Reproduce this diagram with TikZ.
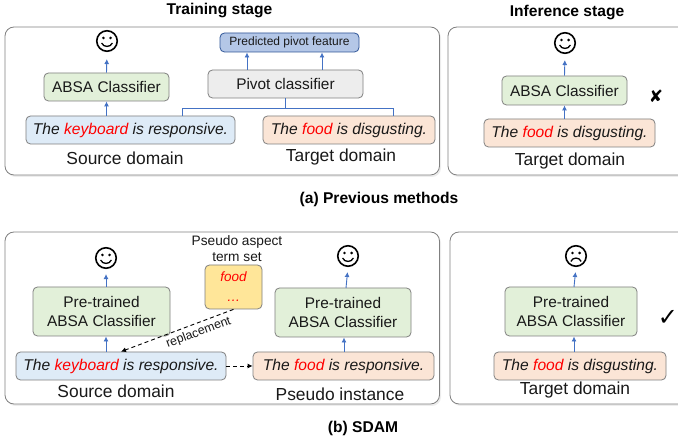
\documentclass[tikz,border=0pt]{standalone}
\usepackage{fontspec}
\setmainfont{Liberation Sans}
\newfontfamily\symfont{DejaVu Sans}
\usetikzlibrary{arrows.meta,shadows}
\definecolor{boxline}{HTML}{7F7F7F}
\definecolor{panelline}{HTML}{808080}
\definecolor{arrowblue}{HTML}{4472C4}
\definecolor{greenfill}{HTML}{E2F0D9}
\definecolor{bluefill}{HTML}{DEEBF7}
\definecolor{orangefill}{HTML}{FBE5D6}
\definecolor{grayfill}{HTML}{EDEDED}
\definecolor{yellowfill}{HTML}{FFE699}
\definecolor{predfill}{HTML}{B4C7E7}
\definecolor{predline}{HTML}{2F5597}
\newcommand{\kw}[1]{\textcolor{red}{#1}}
\tikzset{
	panel/.style={draw=panelline, line width=0.8pt, rounded corners=9pt, fill=white,
		drop shadow={opacity=0.14, shadow xshift=1.5pt, shadow yshift=-2pt}},
	box/.style={draw=boxline, line width=0.8pt, rounded corners=4.5pt, inner sep=0pt, text=black!90, align=center},
	classbox/.style={box, fill=greenfill, font=\fontsize{15.4}{18.5}\selectfont},
	srcbox/.style={box, fill=bluefill, minimum height=28pt, font=\fontsize{15.6}{19}\selectfont\itshape},
	tgtbox/.style={box, fill=orangefill, minimum height=28pt, font=\fontsize{15.6}{19}\selectfont\itshape},
	caption/.style={inner sep=0pt, text=black!90, font=\fontsize{17.4}{20}\selectfont},
	heading/.style={inner sep=0pt, font=\fontsize{15.6}{18}\selectfont\bfseries},
	facecircle/.style={draw=black, circle, line width=1.6pt, minimum size=20.5pt, inner sep=0pt},
	bluearrow/.style={draw=arrowblue, line width=0.9pt, -{Latex[length=5pt,width=5pt]}},
	blueline/.style={draw=arrowblue, line width=0.9pt},
	dasharrow/.style={draw=black, line width=0.9pt, dash pattern=on 4pt off 3pt, -{Latex[length=5pt,width=5pt]}}
}
% one face is a named circle with eyes and a mouth
\def\smileface(#1)(#2){
	\node[facecircle] (#2) at (#1) {};
	\fill (#2.center) ++(-3.6,-3) circle (1.4);
	\fill (#2.center) ++(3.6,-3) circle (1.4);
	\draw[line width=1.3pt] (#2.center) ++(-5.4,2) .. controls +(2,4.6) and +(-2,4.6) .. +(10.8,0);
}
\def\sadface(#1)(#2){
	\node[facecircle] (#2) at (#1) {};
	\fill (#2.center) ++(-3.6,-3) circle (1.4);
	\fill (#2.center) ++(3.6,-3) circle (1.4);
	\draw[line width=1.3pt] (#2.center) ++(-5.2,5.5) .. controls +(2,-4.6) and +(-2,-4.6) .. +(10.4,0);
}

\begin{document}
\begin{tikzpicture}[x=1pt, y=-1pt]
	\useasboundingbox (0,0) rectangle (678,443);

	%%%%% (a) PREVIOUS METHODS %%%%%

	\draw[panel] (5,27) rectangle (439.5,175);
	\draw[panel] (448,27) rectangle (690,175);

	\node[heading] (traininglabel) at (219.5,11) {Training stage};
	\node[heading] (inferencelabel) at (567,13) {Inference stage};

	\smileface(107,41)(faceA)
	\node[classbox, minimum width=125pt, minimum height=28pt] (absaA) at (106.5,87) {ABSA Classifier};
	\node[srcbox, minimum width=209pt] (sourceA) at (130.5,130) {The \kw{keyboard} is responsive.};
	\node[caption] (sourcelabelA) at (125,158) {Source domain};

	\node[box, fill=predfill, draw=predline, minimum width=139pt, minimum height=19pt, font=\fontsize{12}{14}\selectfont, text height=9pt, text depth=2.5pt] (pred) at (289.5,42.5) {Predicted pivot feature};
	\node[box, fill=grayfill, minimum width=155pt, minimum height=28pt, font=\fontsize{15.4}{18.5}\selectfont] (pivot) at (285.5,84) {Pivot classifier};
	\node[tgtbox, minimum width=172pt] (targetA) at (349,130) {The \kw{food} is disgusting.};
	\node[caption] (targetlabelA) at (341,157) {Target domain};

	\draw[bluearrow, shorten >=7pt] (absaA.north) -- (faceA.south);
	\draw[bluearrow] (absaA.south |- sourceA.north) -- (absaA.south);
	\draw[bluearrow] (247,70) -- (247,52.5);
	\draw[bluearrow] (322,70) -- (322,52.5);
	\draw[blueline] (182,116) |- (393,108) -- (393,116);
	\draw[blueline] (pivot.south) -- (pivot.south |- 0,108);

	\smileface(565,43)(faceB)
	\node[classbox, minimum width=125pt, minimum height=29pt] (absaB) at (564.5,90.5) {ABSA Classifier};
	\node[tgtbox, minimum width=171pt] (targetB) at (569.5,133) {The \kw{food} is disgusting.};
	\node[caption] (targetlabelB) at (570,161) {Target domain};
	\node[inner sep=0pt, font=\symfont\fontsize{17}{20}\selectfont] (wrongmark) at (656,96) {✘};

	\draw[bluearrow, shorten >=6pt] (absaB.north) -- (faceB.south);
	\draw[bluearrow] (absaB.south |- targetB.north) -- (absaB.south);

	\node[heading] (captionA) at (379,199) {(a) Previous methods};

	%%%%% (b) SDAM %%%%%

	\draw[panel] (5,232) rectangle (439.5,404);
	\draw[panel] (450,232) rectangle (690,404);

	\smileface(106,258)(faceC)
	\node[classbox, minimum width=137pt, minimum height=49pt] (absaC) at (101.5,311.5) {Pre-trained\\ABSA Classifier};
	\node[srcbox, minimum width=210pt] (sourceC) at (121,366) {The \kw{keyboard} is responsive.};
	\node[caption] (sourcelabelC) at (116,391) {Source domain};

	\node[inner sep=0pt, align=center, text=black!90, font=\fontsize{13.7}{16}\selectfont] (setlabel) at (237,249) {Pseudo aspect\\term set};
	\node[box, fill=yellowfill, minimum width=57pt, minimum height=44pt, font=\fontsize{13.5}{20}\selectfont\itshape, text=red] (termset) at (233.5,287) {food\\\dots};

	\smileface(348,256)(faceD)
	\node[classbox, minimum width=136pt, minimum height=49pt] (absaD) at (343,312.5) {Pre-trained\\ABSA Classifier};
	\node[tgtbox, minimum width=181pt] (pseudo) at (343.5,366) {The \kw{food} is responsive.};
	\node[caption] (pseudolabel) at (340,394) {Pseudo instance};

	\draw[bluearrow, shorten >=5pt] (106,287) -- (faceC.south);
	\draw[bluearrow] (106,352) -- (106,336.5);
	\draw[bluearrow, shorten >=5pt] (346,288) -- (faceD.south);
	\draw[bluearrow] (344,352) -- (344,337.5);

	\draw[dasharrow] (termset.south) -- (sourceC.north) node[pos=0.34, sloped, below, inner sep=3.5pt, text=black!90, font=\fontsize{12.4}{15}\selectfont] (replacelabel) {replacement};
	\draw[dasharrow] (sourceC.east) -- (pseudo.west);

	\sadface(576,256)(faceE)
	\node[classbox, minimum width=132pt, minimum height=49pt] (absaE) at (571,311.5) {Pre-trained\\ABSA Classifier};
	\node[tgtbox, minimum width=172pt] (targetE) at (580,366) {The \kw{food} is disgusting.};
	\node[caption] (targetlabelE) at (575,390) {Target domain};
	\node[inner sep=0pt, font=\symfont\fontsize{24}{28}\selectfont] (rightmark) at (668,318) {✓};

	\draw[bluearrow, shorten >=5pt] (574,287) -- (faceE.south);
	\draw[bluearrow] (574,352) -- (574,336.5);

	\node[heading] (captionB) at (363,428) {(b) SDAM};
\end{tikzpicture}
\end{document}
